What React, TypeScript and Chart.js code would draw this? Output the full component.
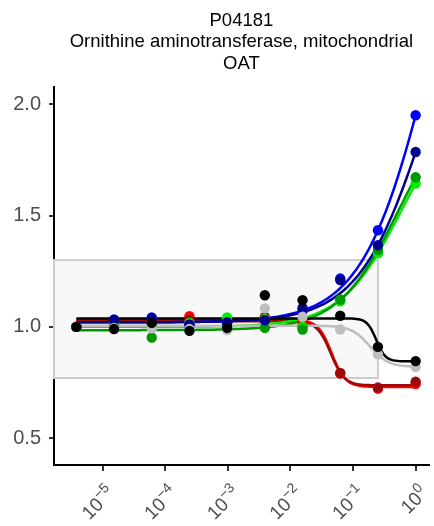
import React, { useEffect, useRef } from 'react';
import { Chart, registerables } from 'chart.js';

Chart.register(...registerables);

// ---------- data ----------
const TITLE_LINES = ['P04181', 'Ornithine aminotransferase, mitochondrial', 'OAT'];

const DOSES = [3.815e-6, 1.526e-5, 6.104e-5, 2.441e-4, 9.766e-4, 3.906e-3, 1.5625e-2, 6.25e-2, 0.25, 1];

const SERIES_COLORS = ['#FF0000', '#9A0A0A', '#00EE00', '#009A00', '#0000FF', '#00008B', '#BEBEBE', '#000000'];

const RED_VALUES = [1.0, 1.02, 1.03, 1.048, 1.03, 1.045, 1.02, 0.79, 0.722, 0.743];
const DARKRED_VALUES = [1.0, 1.01, 1.02, 1.03, 1.02, 1.04, 1.0, 0.793, 0.727, 0.753];
const LIME_VALUES = [1.0, 1.022, 1.0, 1.017, 1.042, 1.035, 1.0, 1.115, 1.33, 1.644];
const GREEN_VALUES = [1.0, 1.0, 0.952, 0.99, 1.0, 0.995, 0.988, 1.123, 1.345, 1.672];
const BLUE_VALUES = [1.0, 1.033, 1.042, 1.01, 1.02, 1.03, 1.07, 1.217, 1.434, 1.951];
const NAVY_VALUES = [1.0, 1.03, 1.036, 1.01, 1.02, 1.03, 1.085, 1.21, 1.367, 1.786];
const GRAY_VALUES = [1.0, 0.995, 0.993, 0.99, 0.985, 1.083, 1.045, 0.988, 0.876, 0.82];
const BLACK_VALUES = [1.0, 0.99, 1.018, 0.982, 0.995, 1.142, 1.12, 1.05, 0.91, 0.846];

// fitted log-logistic curves: value at low dose, value at high dose, log10 EC50, hill slope
const FIT_LOW = [1.032, 1.025, 1.0, 0.985, 1.02, 1.02, 1.005, 1.038];
const FIT_HIGH = [0.73, 0.737, 2.044, 2.064, 3.44, 2.894, 0.82, 0.845];
const FIT_LOGEC = [-1.34, -1.356, -0.23, -0.271, 0.255, 0.2, -0.73, -0.63];
const FIT_HILL = [4, 4, 0.9, 0.9, 0.8, 0.8, 3, 6];

const X_TICKS = [-5, -4, -3, -2, -1, 0];
const X_TICK_BASE = '10';
const X_TICK_EXPONENTS = ['\u22125', '\u22124', '\u22123', '\u22122', '\u22121', '0'];
const Y_TICKS = [0.5, 1.0, 1.5, 2.0];
const Y_TICK_LABELS = ['0.5', '1.0', '1.5', '2.0'];

const BAND_LOW = 0.77;
const BAND_HIGH = 1.3;
const BAND_DOSE_MAX = 0.25;

// ---------- chart ----------
const ALL_VALUES = [RED_VALUES, DARKRED_VALUES, LIME_VALUES, GREEN_VALUES, BLUE_VALUES, NAVY_VALUES, GRAY_VALUES, BLACK_VALUES];
const FONT = "'Liberation Sans', Arial, Helvetica, sans-serif";
const AXIS_TEXT = '#4D4D4D';

function fitValue(k: number, logx: number) {
  const lo = FIT_LOW[k];
  const hi = FIT_HIGH[k];
  return lo + (hi - lo) / (1 + Math.pow(10, FIT_HILL[k] * (FIT_LOGEC[k] - logx)));
}

function curvePoints(k: number) {
  const a = Math.log10(DOSES[0]);
  const b = Math.log10(DOSES[DOSES.length - 1]);
  const n = 160;
  const pts: { x: number; y: number }[] = [];
  for (let i = 0; i <= n; i++) {
    const lx = a + ((b - a) * i) / n;
    pts.push({ x: lx, y: fitValue(k, lx) });
  }
  return pts;
}

const bandPlugin = {
  id: 'bandPlugin',
  beforeDatasetsDraw(chart: any) {
    const { ctx, chartArea, scales } = chart;
    const x0 = chartArea.left;
    const x1 = scales.x.getPixelForValue(Math.log10(BAND_DOSE_MAX));
    const y0 = scales.y.getPixelForValue(BAND_HIGH);
    const y1 = scales.y.getPixelForValue(BAND_LOW);
    ctx.save();
    ctx.fillStyle = '#F8F8F8';
    ctx.fillRect(x0, y0, x1 - x0, y1 - y0);
    ctx.strokeStyle = '#CCCCCC';
    ctx.lineWidth = 2;
    ctx.strokeRect(x0, y0, x1 - x0, y1 - y0);
    ctx.restore();
  },
};

// rotated power-of-ten tick labels with a real superscript
const powerLabelsPlugin = {
  id: 'powerLabels',
  afterDraw(chart: any) {
    const { ctx, scales } = chart;
    const xs = scales.x;
    const mainSize = 19;
    const supSize = 14;
    const raise = 8;
    ctx.save();
    ctx.fillStyle = AXIS_TEXT;
    ctx.textBaseline = 'alphabetic';
    X_TICKS.forEach((v, i) => {
      const px = xs.getPixelForValue(v);
      const ax = px + 4;
      const ay = xs.top + 20;
      ctx.save();
      ctx.translate(ax, ay);
      ctx.rotate(-Math.PI / 4);
      ctx.font = `${supSize}px ${FONT}`;
      ctx.textAlign = 'right';
      const supW = ctx.measureText(X_TICK_EXPONENTS[i]).width;
      ctx.fillText(X_TICK_EXPONENTS[i], 0, 5);
      ctx.font = `${mainSize}px ${FONT}`;
      ctx.fillText(X_TICK_BASE, -supW, 5 + raise);
      ctx.restore();
    });
    ctx.restore();
  },
};

export default function App() {
  const ref = useRef<HTMLCanvasElement | null>(null);

  useEffect(() => {
    if (!ref.current) return;
    const datasets: any[] = [];
    const n = ALL_VALUES.length;
    for (let k = 0; k < n; k++) {
      datasets.push({
        type: 'line',
        data: curvePoints(k),
        borderColor: SERIES_COLORS[k],
        backgroundColor: SERIES_COLORS[k],
        borderWidth: 2.5,
        pointRadius: 0,
        fill: false,
        tension: 0,
        order: 20 + (n - k),
      });
    }
    for (let k = 0; k < n; k++) {
      datasets.push({
        type: 'scatter',
        data: DOSES.map((d, i) => ({ x: Math.log10(d), y: ALL_VALUES[k][i] })),
        borderColor: SERIES_COLORS[k],
        backgroundColor: SERIES_COLORS[k],
        pointRadius: 5.2,
        pointBorderWidth: 0,
        showLine: false,
        order: n - k,
      });
    }

    const chart = new Chart(ref.current, {
      type: 'scatter',
      data: { datasets },
      plugins: [bandPlugin, powerLabelsPlugin],
      options: {
        responsive: false,
        animation: false,
        layout: { padding: { left: 0, right: 4, top: 0, bottom: 0 } },
        plugins: {
          legend: { display: false },
          tooltip: { enabled: false },
          title: {
            display: true,
            text: TITLE_LINES,
            fullSize: false,
            color: '#000000',
            font: { family: FONT, size: 18.5, weight: 'normal', lineHeight: 1.162 },
            padding: { top: 10, bottom: 12.5 },
          },
        },
        scales: {
          x: {
            type: 'linear',
            min: -5.775,
            max: 0.21,
            afterBuildTicks: (s: any) => {
              s.ticks = X_TICKS.map((v) => ({ value: v }));
            },
            afterFit: (s: any) => {
              s.height = 61;
            },
            ticks: { display: false },
            grid: { display: true, drawOnChartArea: false, drawTicks: true, tickLength: 6, color: '#333333', lineWidth: 2 },
            border: { display: true, color: '#000000', width: 2 },
          },
          y: {
            type: 'linear',
            min: 0.379,
            max: 2.078,
            afterBuildTicks: (s: any) => {
              s.ticks = Y_TICKS.map((v) => ({ value: v }));
            },
            afterFit: (s: any) => {
              s.width = 54;
            },
            ticks: {
              padding: 8,
              color: AXIS_TEXT,
              font: { family: FONT, size: 20 },
              callback: (_v: any, i: number) => Y_TICK_LABELS[i],
            },
            grid: { display: true, drawOnChartArea: false, drawTicks: true, tickLength: 5, color: '#333333', lineWidth: 2 },
            border: { display: true, color: '#000000', width: 2 },
          },
        },
      },
    });
    return () => chart.destroy();
  }, []);

  return (
    <div style={{ position: 'fixed', left: 0, top: 0, width: 434, height: 526, background: '#ffffff' }}>
      <canvas ref={ref} width={434} height={526} style={{ display: 'block', width: 434, height: 526 }} />
    </div>
  );
}
